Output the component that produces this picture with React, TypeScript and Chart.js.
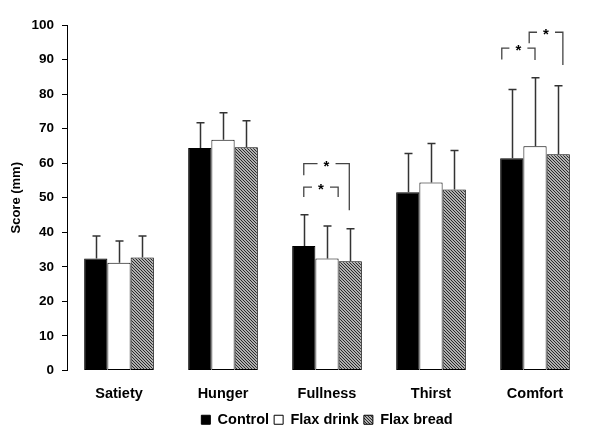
import React, { useEffect, useRef } from "react";
import { Chart, registerables } from "chart.js";

Chart.register(...registerables);

const categories = ["Satiety", "Hunger", "Fullness", "Thirst", "Comfort"];
const seriesNames = ["Control", "Flax drink", "Flax bread"];
const controlMeans = [32.4, 64.4, 36.0, 51.6, 61.4];
const flaxDrinkMeans = [31.2, 66.8, 32.4, 54.4, 64.9];
const flaxBreadMeans = [32.7, 64.6, 31.6, 52.4, 62.6];
const controlErrTop = [38.9, 71.7, 45.1, 62.8, 81.3];
const flaxDrinkErrTop = [37.5, 74.6, 41.8, 65.7, 84.7];
const flaxBreadErrTop = [38.9, 72.3, 41.0, 63.7, 82.4];
const yTicks = [0, 10, 20, 30, 40, 50, 60, 70, 80, 90, 100];

// significance brackets: category index, leg positions in bar-slot units, levels in score units
const bracketCategory = [2, 2, 4, 4];
const bracketLeftSlot = [0, 0, -0.43, 0.75];
const bracketRightSlot = [1.48, 1.96, 1.0, 2.2];
const bracketTop = [53.1, 59.9, 93.3, 97.9];
const bracketLeftEnd = [50.2, 56.5, 90.0, 94.7];
const bracketRightEnd = [50.2, 46.4, 89.9, 88.4];
const bracketLabel = ["*", "*", "*", "*"];

const FONT = '"Liberation Sans", Arial, Helvetica, sans-serif';

function makePattern(): CanvasPattern | string {
  const c = document.createElement("canvas");
  c.width = 3;
  c.height = 3;
  const ctx = c.getContext("2d");
  if (!ctx) return "#808080";
  ctx.fillStyle = "#b0b0b0";
  ctx.fillRect(0, 0, 3, 3);
  ctx.fillStyle = "#2a2a2a";
  for (let i = 0; i < 3; i++) ctx.fillRect(i, i, 1, 1);
  const p = ctx.createPattern(c, "repeat");
  return p || "#808080";
}

const errTops = [controlErrTop, flaxDrinkErrTop, flaxBreadErrTop];

const errorBarPlugin = {
  id: "errorBars",
  afterDatasetsDraw(chart: any) {
    const ctx = chart.ctx;
    const y = chart.scales.y;
    ctx.save();
    ctx.strokeStyle = "#333";
    ctx.lineWidth = 1.5;
    chart.data.datasets.forEach((ds: any, di: number) => {
      const meta = chart.getDatasetMeta(di);
      meta.data.forEach((bar: any, i: number) => {
        const top = y.getPixelForValue(errTops[di][i]);
        const x = Math.round(bar.x) + 0.5;
        ctx.beginPath();
        ctx.moveTo(x, bar.y);
        ctx.lineTo(x, top);
        ctx.moveTo(x - 4, top);
        ctx.lineTo(x + 4, top);
        ctx.stroke();
      });
    });
    ctx.restore();
  },
};

const bracketPlugin = {
  id: "brackets",
  afterDatasetsDraw(chart: any) {
    const ctx = chart.ctx;
    const y = chart.scales.y;
    ctx.save();
    ctx.strokeStyle = "#444";
    ctx.lineWidth = 1.3;
    ctx.fillStyle = "#000";
    ctx.font = `bold 15px ${FONT}`;
    ctx.textAlign = "center";
    ctx.textBaseline = "middle";
    for (let b = 0; b < bracketCategory.length; b++) {
      const ci = bracketCategory[b];
      const mid = chart.getDatasetMeta(1).data[ci];
      const w = mid.width;
      const xl = mid.x + (bracketLeftSlot[b] - 1) * w;
      const xr = mid.x + (bracketRightSlot[b] - 1) * w;
      const yt = y.getPixelForValue(bracketTop[b]);
      const yl = y.getPixelForValue(bracketLeftEnd[b]);
      const yr = y.getPixelForValue(bracketRightEnd[b]);
      const xm = (xl + xr) / 2;
      const gap = 9;
      ctx.beginPath();
      ctx.moveTo(xl, yl);
      ctx.lineTo(xl, yt);
      ctx.lineTo(xm - gap, yt);
      ctx.moveTo(xm + gap, yt);
      ctx.lineTo(xr, yt);
      ctx.lineTo(xr, yr);
      ctx.stroke();
      ctx.fillText(bracketLabel[b], xm, yt + 3);
    }
    ctx.restore();
  },
};

// centre the legend under the plot area rather than the whole canvas
const legendShiftPlugin = {
  id: "legendShift",
  afterLayout(chart: any) {
    const lg = chart.legend;
    const ca = chart.chartArea;
    if (!lg || !ca) return;
    const shift = (ca.left + ca.right) / 2 - (lg.left + lg.right) / 2;
    lg.left += shift;
    lg.right += shift;
  },
};

export default function App() {
  const ref = useRef<HTMLCanvasElement | null>(null);
  useEffect(() => {
    if (!ref.current) return;
    const pattern = makePattern();
    const chart = new Chart(ref.current, {
      type: "bar",
      data: {
        labels: categories,
        datasets: [
          { label: seriesNames[0], data: controlMeans, backgroundColor: "#000000" },
          { label: seriesNames[1], data: flaxDrinkMeans, backgroundColor: "#ffffff" },
          { label: seriesNames[2], data: flaxBreadMeans, backgroundColor: pattern as any },
        ].map((d) => ({
          ...d,
          borderColor: "#000",
          borderWidth: 1,
          borderSkipped: false,
          categoryPercentage: 0.67,
          barPercentage: 1,
        })),
      },
      options: {
        animation: false,
        responsive: false,
        maintainAspectRatio: false,
        layout: { padding: { top: 25, right: 13, bottom: 9, left: 0 } },
        plugins: {
          tooltip: { enabled: false },
          legend: {
            position: "bottom",
            labels: {
              boxWidth: 9,
              boxHeight: 9,
              padding: 5,
              color: "#000",
              font: { family: FONT, size: 14.5, weight: "bold" },
            },
          },
        },
        scales: {
          x: {
            grid: { display: false },
            border: { display: false },
            ticks: {
              color: "#000",
              padding: 7,
              font: { family: FONT, size: 14.5, weight: "bold" },
            },
            afterFit: (s: any) => {
              s.height = 37;
            },
          },
          y: {
            min: 0,
            max: 100,
            afterBuildTicks: (s: any) => {
              s.ticks = yTicks.map((v) => ({ value: v }));
            },
            grid: {
              display: true,
              drawOnChartArea: false,
              drawTicks: true,
              tickLength: 5,
              color: "#000",
            },
            border: { display: true, color: "#000", width: 1 },
            ticks: {
              color: "#000",
              padding: 8,
              font: { family: FONT, size: 13.5, weight: "bold" },
            },
            title: {
              display: true,
              text: "Score (mm)",
              color: "#000",
              padding: { top: 9, bottom: 0 },
              font: { family: FONT, size: 13, weight: "bold" },
            },
            afterFit: (s: any) => {
              s.width = 67;
            },
          },
        },
      } as any,
      plugins: [errorBarPlugin, bracketPlugin, legendShiftPlugin],
    });
    return () => chart.destroy();
  }, []);
  return (
    <div style={{ position: "fixed", left: 0, top: 0, width: 600, height: 446, background: "#fff" }}>
      <canvas ref={ref} width={600} height={446} style={{ width: 600, height: 446 }} />
    </div>
  );
}
